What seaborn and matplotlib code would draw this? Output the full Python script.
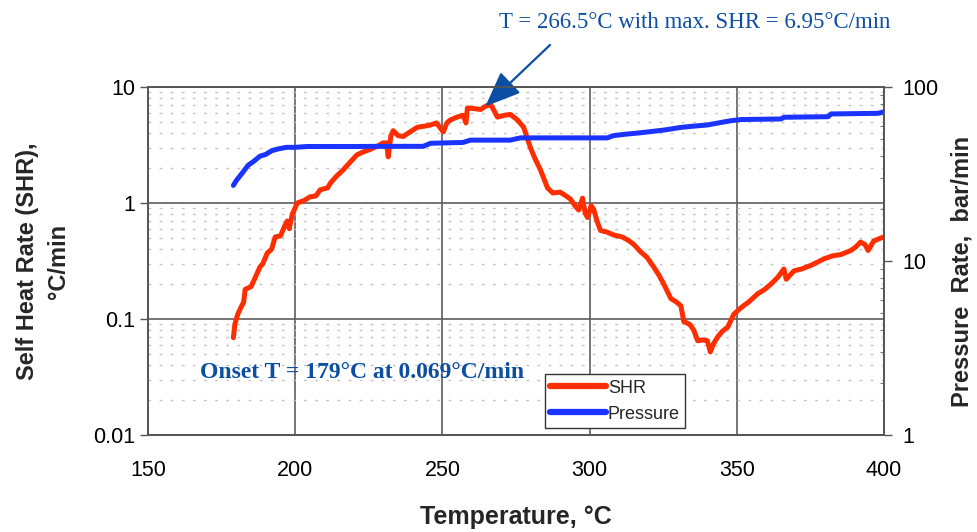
import numpy as np
import pandas as pd
import matplotlib
matplotlib.use("Agg")
import matplotlib.pyplot as plt
from matplotlib.ticker import LogLocator, FixedLocator, NullFormatter
from matplotlib.lines import Line2D
import seaborn as sns

# ---- data ----
shr_T = [179, 179.5, 180.5, 181.5, 182.5, 183, 185, 186.5, 188, 189, 190.5, 192, 193.2, 195, 196.5,
         197.3, 198, 199, 200.7, 203, 205, 207, 208.5, 211, 212, 214, 216.3, 219, 221, 223, 225.5,
         228, 229.9, 231, 231.6, 232.5, 233.3, 235, 236.7, 239, 241.5, 244, 245.9, 248, 250.3,
         251.5, 252.7, 255, 257.1, 258, 258.5, 261, 263, 265, 266.5, 267.5, 268.7, 271, 273.1,
         275.5, 277.6, 279.9, 281.5, 283.3, 285.7, 287.5, 290, 292, 293.5, 295, 296.3, 297.6,
         298.5, 299.3, 300.5, 301.4, 302.5, 303.7, 306, 308.2, 311, 313, 315, 317.3, 319.5, 321.8,
         323.5, 325.2, 327.6, 329.5, 331, 332, 334, 335.4, 336.7, 338.5, 340, 341, 342.2, 343.5,
         345, 346.9, 349, 351.4, 354, 357.1, 359.5, 361.6, 364, 366, 366.8, 369.4, 372, 375.2,
         377.5, 379.6, 382.5, 385.4, 388.8, 390.5, 392, 393.5, 394.6, 396.5, 399, 400]
shr_val = [0.069, 0.09, 0.11, 0.125, 0.14, 0.18, 0.19, 0.23, 0.28, 0.30, 0.37, 0.40, 0.51, 0.52, 0.64,
           0.70, 0.60, 0.80, 1.0, 1.05, 1.13, 1.15, 1.3, 1.35, 1.49, 1.7, 1.93, 2.3, 2.6, 2.75, 2.9,
           3.1, 3.3, 3.3, 2.5, 3.8, 4.2, 3.8, 3.75, 4.1, 4.5, 4.6, 4.7, 4.9, 4.1,
           4.9, 5.2, 5.5, 5.7, 4.9, 6.6, 6.5, 6.4, 6.9, 7.0, 6.3, 5.5, 5.7, 5.8,
           5.2, 4.5, 3.0, 2.4, 1.93, 1.35, 1.22, 1.24, 1.15, 1.08, 0.95, 0.87, 1.1,
           0.82, 0.75, 0.95, 0.88, 0.70, 0.58, 0.56, 0.53, 0.51, 0.48, 0.44, 0.38, 0.34, 0.28,
           0.24, 0.20, 0.15, 0.14, 0.13, 0.095, 0.09, 0.08, 0.065, 0.066, 0.065, 0.052, 0.062, 0.07,
           0.078, 0.085, 0.11, 0.125, 0.14, 0.165, 0.18, 0.20, 0.23, 0.27, 0.22, 0.26, 0.27, 0.29,
           0.31, 0.33, 0.35, 0.36, 0.39, 0.42, 0.46, 0.44, 0.39, 0.47, 0.50, 0.51]

pres_T = [179, 180, 182, 184, 186, 188, 190, 192, 194, 197, 200, 204, 210, 220, 230, 240, 243.5,
          246, 257, 259.5, 273, 276.5, 290, 306, 308, 312, 317, 321, 325, 328, 331, 335, 340,
          344.5, 348, 351.4, 365, 366, 381, 382, 398, 400]
pres_val = [27.2, 29, 32, 35.5, 37.5, 40, 41, 43, 44, 45, 45, 45.5, 45.5, 45.5, 45.6, 45.6, 45.6,
            47.5, 48, 49.5, 49.5, 51, 51, 51, 52.5, 53.5, 54.5, 55.5, 56.5, 57.5, 58.6, 59.5, 60.5,
            62.5, 64, 65, 65.5, 67, 67.5, 70, 70.6, 72]

x_ticks = [150, 200, 250, 300, 350, 400]
left_ticks = [0.01, 0.1, 1, 10]
left_labels = ["0.01", "0.1", "1", "10"]
right_ticks = [1, 10, 100]
right_labels = ["1", "10", "100"]

RED = "#FF2E00"
BLUE = "#1A33FF"
ANN = "#0B4EA2"

sns.set_theme(style="white")
plt.rcParams["font.family"] = ["Liberation Sans", "DejaVu Sans"]

fig = plt.figure(figsize=(9.77, 5.32), dpi=100)
ax = fig.add_axes([148/977, 1-435/532, (884-148)/977, (435-87)/532])
ax2 = ax.twinx()

shr_df = pd.DataFrame({"T": shr_T, "v": shr_val})
pres_df = pd.DataFrame({"T": pres_T, "v": pres_val})

sns.lineplot(data=shr_df, x="T", y="v", ax=ax, color=RED, lw=3.6, sort=False, estimator=None)
sns.lineplot(data=pres_df, x="T", y="v", ax=ax2, color=BLUE, lw=3.6, sort=False, estimator=None)

ax.set_yscale("log")
ax2.set_yscale("log")
ax.set_xlim(150, 400)
ax.set_ylim(0.01, 10)
ax2.set_ylim(1, 100)

ax.set_xticks(x_ticks)
ax.set_xticklabels([str(t) for t in x_ticks])
ax.yaxis.set_major_locator(FixedLocator(left_ticks))
ax.set_yticklabels(left_labels)
ax.yaxis.set_minor_locator(LogLocator(base=10, subs=np.arange(2, 10)))
ax.yaxis.set_minor_formatter(NullFormatter())
ax2.yaxis.set_major_locator(FixedLocator(right_ticks))
ax2.set_yticklabels(right_labels)
ax2.yaxis.set_minor_locator(LogLocator(base=10, subs=np.arange(2, 10)))
ax2.yaxis.set_minor_formatter(NullFormatter())

ax.grid(True, which="major", axis="both", color="#5e5e5e", lw=1.2, ls="-")
ax.grid(True, which="minor", axis="y", color="#c4c4c4", lw=1.0, ls=(0, (2, 6)))
ax2.grid(False)
ax.set_axisbelow(True)

for a in (ax, ax2):
    for s in a.spines.values():
        s.set_color("#555555")
        s.set_linewidth(1.2)

ax.tick_params(axis="x", which="major", direction="out", length=7, width=1, color="#555555",
               labelsize=15.5, labelcolor="black", pad=11)
ax.tick_params(axis="y", which="major", direction="out", length=6, width=1, color="#555555",
               labelsize=15.5, labelcolor="black", pad=3)
ax.tick_params(axis="y", which="minor", length=0)
ax2.tick_params(axis="y", which="major", direction="out", length=6, width=1, color="#555555",
                labelsize=15.5, labelcolor="black", pad=7)
ax2.tick_params(axis="y", which="minor", direction="in", length=3, width=0.8, color="#777777")

ax.set_xlabel("Temperature, °C", fontsize=18, fontweight="bold")
ax.xaxis.label.set_va("center")
ax.xaxis.set_label_coords(0.5, (435-517)/348)

ax.set_ylabel("Self Heat Rate (SHR),\n°C/min", fontsize=17, fontweight="bold", linespacing=1.45)
ax.yaxis.label.set_va("center")
ax.yaxis.set_label_coords((43-148)/736, 0.5)

ax2.set_ylabel("Pressure  Rate,  bar/min", fontsize=17, fontweight="bold", rotation=90)
ax2.yaxis.label.set_va("center")
ax2.yaxis.set_label_coords((962-148)/736, (435-271)/348)

ax.text(167.7, 0.0344, "Onset T = 179°C at 0.069°C/min", color=ANN, fontsize=17, fontweight="bold",
        family=["Liberation Serif", "DejaVu Serif"], ha="left", va="center", zorder=5)

fig.text(695/977, 1-28/532, "T = 266.5°C with max. SHR = 6.95°C/min", color=ANN, fontsize=16.5,
         family=["Liberation Serif", "DejaVu Serif"], ha="center", va="baseline")
ax.annotate("", xy=(264.6, 6.8), xycoords="data",
            xytext=(550/977, 1-45/532), textcoords="figure fraction",
            arrowprops=dict(arrowstyle="-|>,head_length=1.1,head_width=0.45", mutation_scale=20,
                            lw=1.6, color=ANN, shrinkA=0, shrinkB=0), zorder=6)

handles = [Line2D([], [], color=RED, lw=4.5), Line2D([], [], color=BLUE, lw=4.5)]
leg = ax2.legend(handles, ["SHR", "Pressure"], loc="lower left", bbox_to_anchor=(0.539, 0.02),
                 fontsize=13, frameon=True, fancybox=False, handlelength=3.1, handletextpad=0.1,
                 borderpad=0.3, labelspacing=0.5, borderaxespad=0)
leg.get_frame().set_edgecolor("#333333")
leg.get_frame().set_linewidth(1.0)
leg.get_frame().set_alpha(1)

fig.savefig("out.png", dpi=100)
